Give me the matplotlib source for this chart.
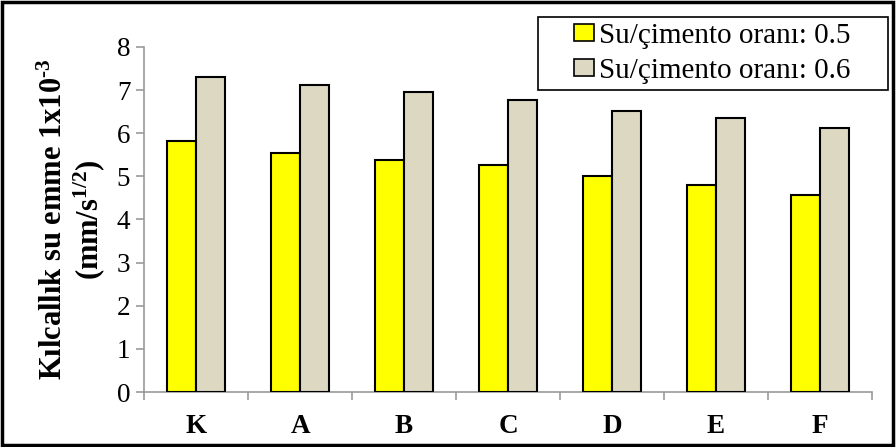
import numpy as np
import matplotlib.pyplot as plt
from matplotlib.patches import Rectangle

plt.rcParams['font.family'] = ['Liberation Serif', 'DejaVu Serif']
plt.rcParams['mathtext.fontset'] = 'custom'
plt.rcParams['mathtext.rm'] = 'Liberation Serif:bold'
plt.rcParams['mathtext.it'] = 'Liberation Serif:bold'
plt.rcParams['mathtext.bf'] = 'Liberation Serif:bold'

kategoriler = ['K', 'A', 'B', 'C', 'D', 'E', 'F']
oran_05 = [5.82, 5.53, 5.37, 5.26, 5.00, 4.80, 4.56]
oran_06 = [7.31, 7.11, 6.96, 6.76, 6.51, 6.36, 6.11]
seri_adlari = ['Su/çimento oranı: 0.5', 'Su/çimento oranı: 0.6']

W, H = 896, 447
fig = plt.figure(figsize=(W / 100, H / 100), dpi=100)
ax = fig.add_axes([0.161, 0.123, 0.812, 0.772])

x = np.arange(len(kategoriler))
w = 0.28
ax.bar(x - w / 2, oran_05, w, color='#FFFF00', edgecolor='black', linewidth=1.5,
       label=seri_adlari[0], zorder=3)
ax.bar(x + w / 2, oran_06, w, color='#DDD8C2', edgecolor='black', linewidth=1.5,
       label=seri_adlari[1], zorder=3)

ax.set_xlim(-0.5, len(kategoriler) - 0.5)
ax.set_ylim(0, 8)
ax.set_yticks(range(0, 9))
ax.set_xticks(x)
ax.set_xticklabels(kategoriler, fontsize=19.5, fontweight='bold')
ax.set_xticks(np.arange(-0.5, len(kategoriler)), minor=True)
ax.tick_params(axis='x', which='major', length=0, pad=16)
ax.tick_params(axis='x', which='minor', length=6, color='#999999', width=1.2, direction='out')
ax.tick_params(axis='y', labelsize=19.5, length=6, color='#999999', width=1.2, pad=4)

for s in ['top', 'right']:
    ax.spines[s].set_visible(False)
for s in ['left', 'bottom']:
    ax.spines[s].set_color('#999999')
    ax.spines[s].set_linewidth(1.2)

ax.set_ylabel('Kılcallık su emme 1x10$^{\\text{-3}}$\n(mm/s$^{1/2}$)', fontsize=22,
              fontweight='bold', linespacing=1.1, labelpad=7)

# legend entries without frame, box drawn separately with wide side padding
leg = ax.legend(loc='upper left', bbox_to_anchor=(574 / W, 1 - 23 / H),
                bbox_transform=fig.transFigure, fontsize=21, frameon=False,
                handlelength=0.7, handleheight=0.55, handletextpad=0.15,
                borderpad=0, labelspacing=0.3, borderaxespad=0)
for h in leg.legend_handles:
    h.set_linewidth(1.2)
fig.patches.append(Rectangle((538 / W, 1 - 90 / H), 350 / W, 73 / H,
                             transform=fig.transFigure, fill=False,
                             edgecolor='black', linewidth=1.2, zorder=5))

fig.patches.append(Rectangle((0.002, 0.004), 0.995, 0.992, transform=fig.transFigure,
                             fill=False, edgecolor='black', linewidth=2.5))

fig.savefig('out.png', dpi=100)
